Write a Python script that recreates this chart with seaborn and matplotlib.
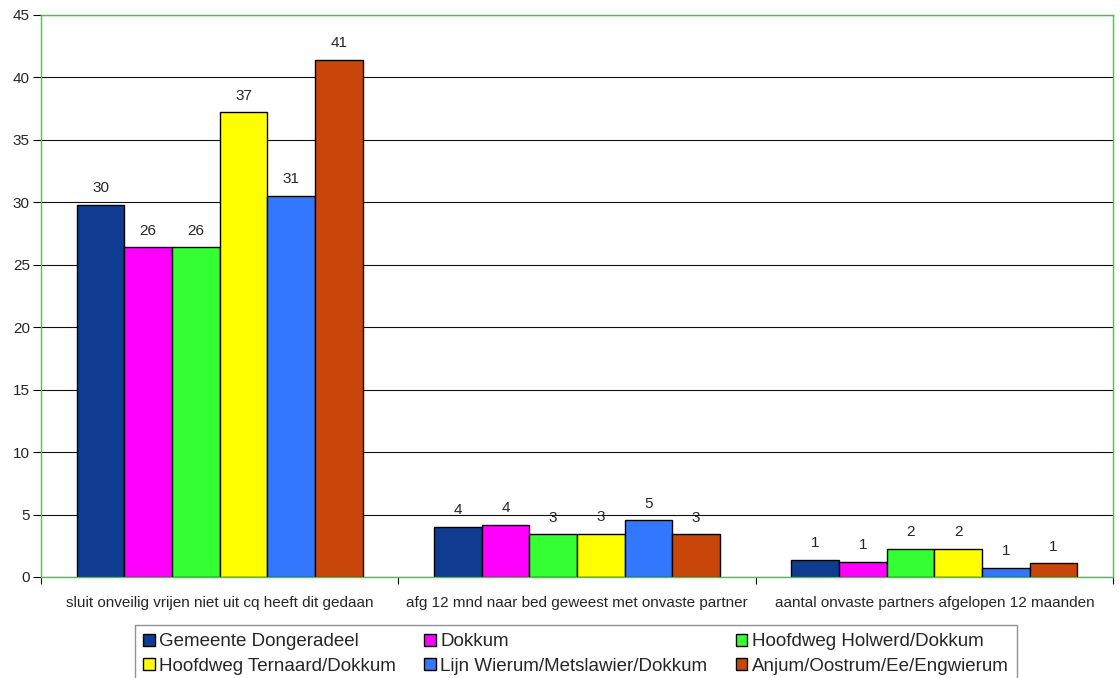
import matplotlib
matplotlib.use("Agg")
import matplotlib.pyplot as plt
import seaborn as sns
import pandas as pd
from matplotlib.ticker import FixedLocator

categories = ["sluit onveilig vrijen niet uit cq heeft dit gedaan",
              "afg 12 mnd naar bed geweest met onvaste partner",
              "aantal onvaste partners afgelopen 12 maanden"]
series = ["Gemeente Dongeradeel", "Dokkum", "Hoofdweg Holwerd/Dokkum",
          "Hoofdweg Ternaard/Dokkum", "Lijn Wierum/Metslawier/Dokkum",
          "Anjum/Oostrum/Ee/Engwierum"]
values = {
    "Gemeente Dongeradeel": [29.8, 4.0, 1.36],
    "Dokkum": [26.4, 4.16, 1.2],
    "Hoofdweg Holwerd/Dokkum": [26.4, 3.42, 2.27],
    "Hoofdweg Ternaard/Dokkum": [37.2, 3.44, 2.27],
    "Lijn Wierum/Metslawier/Dokkum": [30.5, 4.54, 0.72],
    "Anjum/Oostrum/Ee/Engwierum": [41.4, 3.42, 1.1],
}
colors = ["#0f3c91", "#ff00ff", "#33ff33", "#ffff00", "#3377ff", "#c8460a"]

rows = []
for s in series:
    for c, v in zip(categories, values[s]):
        rows.append({"cat": c, "serie": s, "val": v})
df = pd.DataFrame(rows)

sns.set_style("white")
plt.rcParams["font.family"] = ["Liberation Sans", "DejaVu Sans"]

fig = plt.figure(figsize=(11.2, 6.78), dpi=100)
ax = fig.add_axes([41 / 1120, 1 - 577 / 678, 1072 / 1120, 562 / 678])

sns.barplot(data=df, x="cat", y="val", hue="serie", hue_order=series,
            order=categories, palette=colors, width=0.8, saturation=1,
            edgecolor="black", linewidth=1, ax=ax, legend=True)

# Excel style labels: rounded half up
for cont, s in zip(ax.containers, series):
    labs = [str(int(v + 0.5)) for v in values[s]]
    ax.bar_label(cont, labels=labs, padding=7, fontsize=11)

ax.set_ylim(0, 45)
ax.set_xlim(-0.5, 2.5)
ax.set_yticks(range(0, 46, 5))
ax.yaxis.grid(True, color="#111111", linewidth=0.8)
ax.set_axisbelow(True)
ax.set_xlabel("")
ax.set_ylabel("")
for sp in ax.spines.values():
    sp.set_color("#22dd22")
    sp.set_linewidth(1)
ax.tick_params(axis="y", which="major", left=True, length=6, width=0.8,
               color="black", labelsize=11, pad=2)
ax.tick_params(axis="x", which="major", length=0, labelsize=11, pad=14)
ax.xaxis.set_minor_locator(FixedLocator([-0.5, 0.5, 1.5, 2.5]))
ax.tick_params(axis="x", which="minor", bottom=True, length=5, width=0.8,
               color="black")

handles, labels = ax.get_legend_handles_labels()
ax.get_legend().remove()
order = [0, 3, 1, 4, 2, 5]
leg = fig.legend([handles[i] for i in order], [labels[i] for i in order],
                 ncol=3, loc="upper left",
                 bbox_to_anchor=(135 / 1120, 1 - 625 / 678),
                 fontsize=13.5, frameon=True, fancybox=False,
                 handlelength=0.6, handleheight=0.6, handletextpad=0.25,
                 columnspacing=1.5, labelspacing=0.4, borderpad=0.45,
                 borderaxespad=0)
leg.get_frame().set_edgecolor("#777777")
leg.get_frame().set_linewidth(1)

fig.savefig("out.png", dpi=100)
